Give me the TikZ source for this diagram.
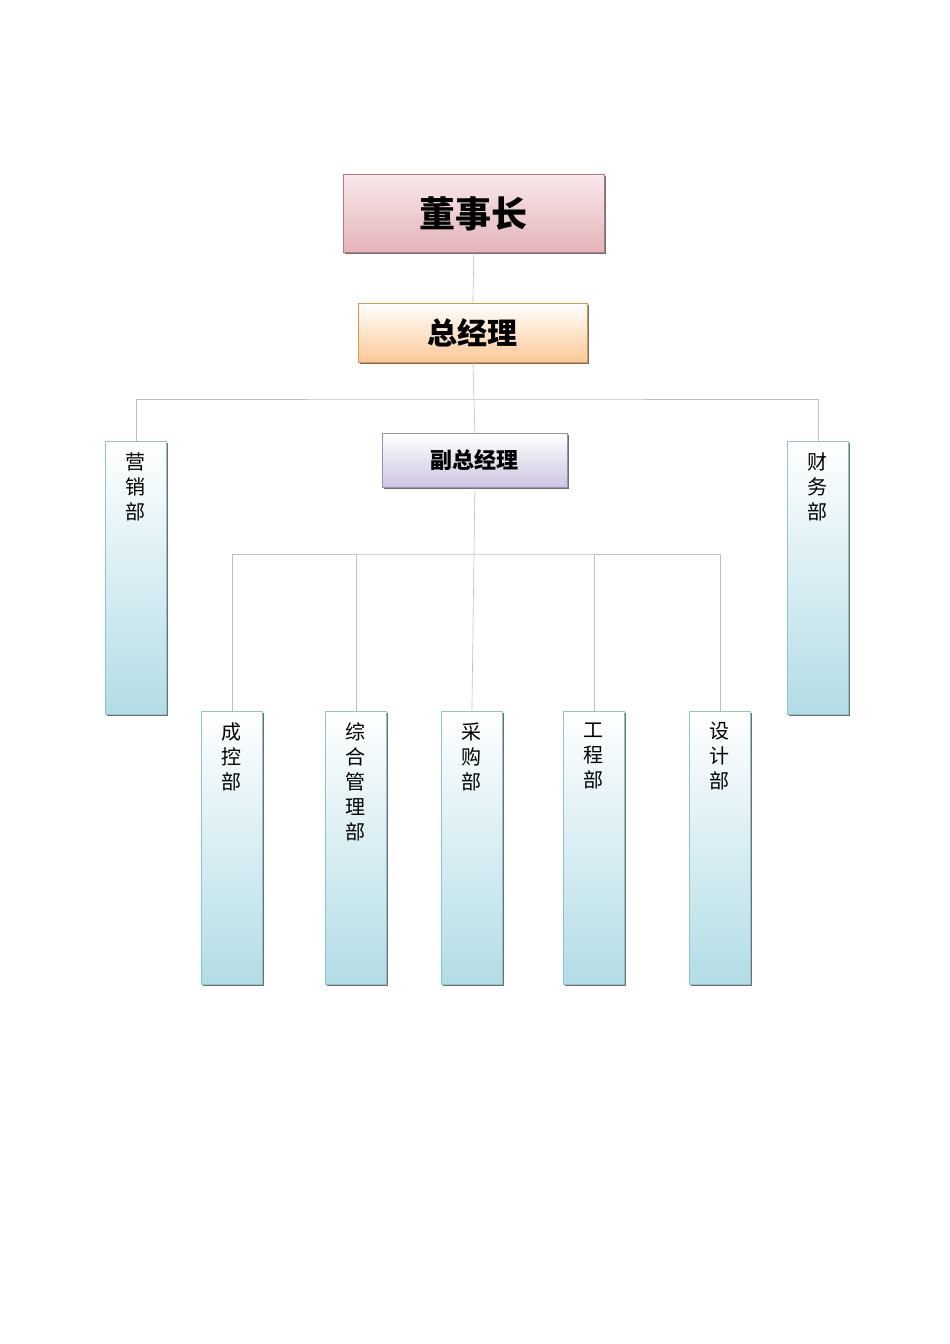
\documentclass[tikz,border=0pt]{standalone}
\usepackage{fontspec}
\newfontfamily\cjk{Noto Sans CJK SC}
\usetikzlibrary{shadows}
\definecolor{dbot}{HTML}{B2DCE6}
\definecolor{dline}{HTML}{8CC4D2}
\definecolor{pbot}{HTML}{E4B4BA}
\definecolor{ptop}{HTML}{F8E8EA}
\definecolor{pline}{HTML}{B87880}
\definecolor{obot}{HTML}{FAC896}
\definecolor{oline}{HTML}{E0944C}
\definecolor{vbot}{HTML}{CCC4E0}
\definecolor{vline}{HTML}{9A8CBE}
\begin{document}
\begin{tikzpicture}[x=1pt,y=-1pt,
  conn/.style={draw=black!25,line width=0.6pt},
  box/.style={anchor=north west,inner sep=0pt,font=\cjk,
    drop shadow={shadow xshift=2pt,shadow yshift=-2pt,fill=black!70,opacity=0.8}},
  dept/.style={box,minimum width=61pt,minimum height=273pt,draw=dline,
    top color=white,bottom color=dbot,line width=0.8pt},
  dtext/.style={anchor=north,font=\cjk\fontsize{20}{25}\selectfont,align=center}]
\useasboundingbox (0,0) rectangle (950,1344);
\fill[white] (0,0) rectangle (950,1344);
\node[box,minimum width=261pt,minimum height=78pt,draw=pline,line width=0.8pt,
  top color=ptop,bottom color=pbot,font=\cjk\bfseries\fontsize{36}{40}\selectfont] (dsz) at (343,174) {董事长};
\node[box,minimum width=229pt,minimum height=59pt,draw=oline,line width=0.8pt,
  top color=white,bottom color=obot,font=\cjk\bfseries\fontsize{30}{34}\selectfont] (zjl) at (358,303) {总经理};
\node[box,minimum width=185pt,minimum height=54pt,draw=vline,line width=0.8pt,
  top color=white,bottom color=vbot,font=\cjk\bfseries\fontsize{22}{26}\selectfont] (fzjl) at (382,433) {副总经理};
\node[dept] (yx) at (105,441) {};
\node[dept] (cw) at (787,441) {};
\node[dept] (ck) at (201,711) {};
\node[dept] (zh) at (325,711) {};
\node[dept] (cg) at (441,711) {};
\node[dept] (gc) at (563,711) {};
\node[dept] (sj) at (689,711) {};
\foreach \n/\t in {yx/{营\\销\\部},cw/{财\\务\\部},ck/{成\\控\\部},zh/{综\\合\\管\\理\\部},cg/{采\\购\\部},gc/{工\\程\\部},sj/{设\\计\\部}}
  \node[dtext] at ([yshift=-8pt]\n.north) {\t};
\coordinate (h1) at (474,399);
\coordinate (h2) at (474,554);
\draw[conn] (dsz.south) -- (zjl.north);
\draw[conn] (zjl.south) -- (fzjl.north);
\draw[conn] (fzjl.south) -- (h2);
\draw[conn] (yx.north) |- (h1) -| (cw.north);
\draw[conn] (ck.north) |- (h2) -| (sj.north);
\draw[conn] (zh.north) -- (zh.north |- h2);
\draw[conn] (cg.north) -- (h2);
\draw[conn] (gc.north) -- (gc.north |- h2);
\end{tikzpicture}
\end{document}
